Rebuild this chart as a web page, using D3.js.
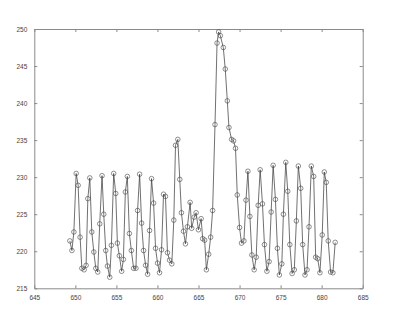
<!DOCTYPE html>
<html>
<head>
<meta charset="utf-8">
<script src="https://cdn.jsdelivr.net/npm/d3@7"></script>
<style>
  body { margin: 0; background: #fff; }
  .axis text { font-family: "Liberation Sans", Arial, sans-serif; font-size: 6.5px; fill: #444; }
</style>
</head>
<body>
<div id="chart"></div>
<script>
const xValues = [
  649.33, 649.58, 649.82, 650.10, 650.34, 650.58, 650.79, 651.07, 651.31, 651.52,
  651.76, 652.00, 652.25, 652.49, 652.73, 652.97, 653.25, 653.46, 653.70, 653.91,
  654.19, 654.39, 654.67, 654.92, 655.12, 655.36, 655.64, 655.85, 656.09, 656.33,
  656.58, 656.82, 657.10, 657.38, 657.58, 657.83, 658.07, 658.31, 658.56, 658.80,
  659.04, 659.28, 659.53, 659.77, 660.01, 660.25, 660.50, 660.74, 660.98, 661.22,
  661.47, 661.75, 661.99, 662.20, 662.48, 662.72, 662.92, 663.17, 663.41, 663.65,
  663.98, 664.17, 664.47, 664.71, 664.99, 665.32, 665.51, 665.75, 665.96, 666.24,
  666.48, 666.72, 667.01, 667.26, 667.45, 667.66, 668.02, 668.26, 668.51, 668.71,
  669.03, 669.27, 669.51, 669.72, 670.00, 670.24, 670.53, 670.78, 671.02, 671.26,
  671.50, 671.78, 672.03, 672.27, 672.51, 672.79, 673.03, 673.33, 673.60, 673.85,
  674.09, 674.37, 674.61, 674.85, 675.15, 675.34, 675.63, 675.87, 676.12, 676.40,
  676.67, 676.92, 677.16, 677.45, 677.69, 677.97, 678.22, 678.46, 678.74, 679.03,
  679.27, 679.51, 679.79, 680.07, 680.32, 680.56, 680.80, 681.09, 681.37, 681.65
];
const yValues = [
  221.4, 220.1, 222.6, 230.5, 228.9, 221.9, 217.7, 217.5, 218.1, 227.1,
  229.9, 222.6, 219.9, 217.7, 217.2, 223.7, 230.2, 225.0, 220.1, 218.0,
  216.5, 220.8, 230.5, 227.8, 221.1, 219.4, 217.3, 218.9, 228.0, 230.1,
  222.4, 220.1, 217.7, 217.7, 225.5, 230.4, 223.8, 220.1, 218.1, 216.9,
  222.8, 229.8, 226.5, 220.4, 218.4, 217.1, 220.2, 227.7, 227.4, 219.8,
  218.8, 218.3, 224.2, 234.3, 235.1, 229.7, 225.2, 222.7, 221.0, 223.3,
  226.6, 223.1, 224.6, 225.2, 222.9, 224.4, 221.7, 221.5, 217.5, 219.6,
  221.9, 225.5, 237.1, 248.1, 249.6, 249.1, 247.5, 244.6, 240.3, 236.7,
  235.1, 234.9, 233.9, 227.6, 223.2, 221.1, 221.4, 226.9, 230.8, 224.7,
  219.5, 217.5, 219.2, 226.2, 231.0, 226.4, 220.9, 217.3, 218.6, 225.3,
  231.6, 227.0, 220.4, 216.8, 218.3, 225.0, 232.0, 228.1, 220.9, 217.0,
  217.5, 224.1, 231.5, 228.5, 220.9, 216.8, 217.5, 223.3, 231.5, 230.1,
  219.2, 219.0, 217.1, 222.2, 230.7, 229.3, 221.4, 217.2, 217.1, 221.2
];
const xTicks = [645, 650, 655, 660, 665, 670, 675, 680, 685];
const yTicks = [215, 220, 225, 230, 235, 240, 245, 250];

const width = 400, height = 321;
const margin = { top: 29, right: 37.3, bottom: 32.7, left: 34.3 };
const innerW = width - margin.left - margin.right;
const innerH = height - margin.top - margin.bottom;

const data = xValues.map((x, i) => ({ x: x, y: yValues[i] }));

const svg = d3.select("#chart")
  .append("svg")
  .attr("width", width)
  .attr("height", height);

const chart = svg.append("g")
  .attr("transform", `translate(${margin.left},${margin.top})`);

const xScale = d3.scaleLinear().domain([645, 685]).range([0, innerW]);
const yScale = d3.scaleLinear().domain([215, 250]).range([innerH, 0]);

// axes with inward ticks on all four sides (box style)
const axisColor = "#8a8a8a";
function styleAxis(g) {
  g.select(".domain").attr("stroke", axisColor).attr("stroke-width", 1);
  g.selectAll(".tick line").attr("stroke", axisColor);
}

chart.append("g")
  .attr("class", "axis x-axis")
  .attr("transform", `translate(0,${innerH})`)
  .call(d3.axisBottom(xScale).tickValues(xTicks).tickSizeInner(-3).tickSizeOuter(0).tickPadding(7))
  .call(styleAxis);

chart.append("g")
  .attr("class", "axis")
  .call(d3.axisTop(xScale).tickValues(xTicks).tickSizeInner(-3).tickSizeOuter(0).tickFormat(""))
  .call(styleAxis);

chart.append("g")
  .attr("class", "axis y-axis")
  .call(d3.axisLeft(yScale).tickValues(yTicks).tickSizeInner(-3).tickSizeOuter(0).tickPadding(7))
  .call(styleAxis);

chart.append("g")
  .attr("class", "axis")
  .attr("transform", `translate(${innerW},0)`)
  .call(d3.axisRight(yScale).tickValues(yTicks).tickSizeInner(-3).tickSizeOuter(0).tickFormat(""))
  .call(styleAxis);

// the series line
const line = d3.line()
  .x(d => xScale(d.x))
  .y(d => yScale(d.y));

chart.append("path")
  .datum(data)
  .attr("fill", "none")
  .attr("stroke", "#333")
  .attr("stroke-width", 0.7)
  .attr("d", line);

// circle markers
chart.selectAll(".pt")
  .data(data)
  .enter()
  .append("circle")
  .attr("class", "pt")
  .attr("cx", d => xScale(d.x))
  .attr("cy", d => yScale(d.y))
  .attr("r", 2.3)
  .attr("fill", "none")
  .attr("stroke", "#444")
  .attr("stroke-width", 0.6);
</script>
</body>
</html>
